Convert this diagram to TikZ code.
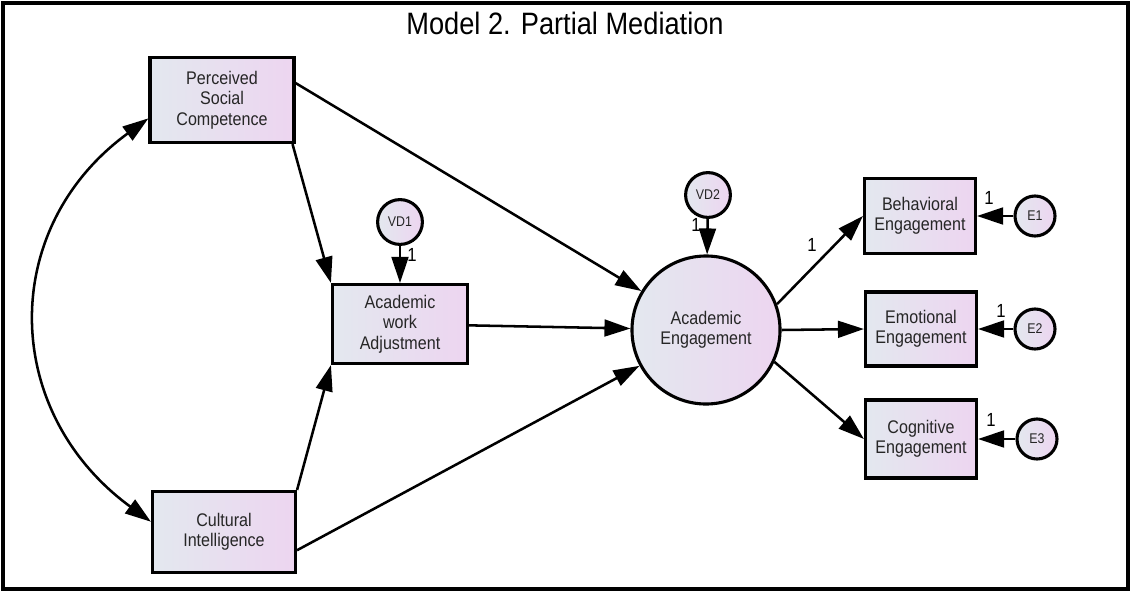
\documentclass[tikz,border=0pt]{standalone}
\usepackage{fontspec}
\setmainfont{Liberation Sans}[FakeStretch=0.88]
\usetikzlibrary{arrows.meta}
\definecolor{boxl}{HTML}{E3E8EF}
\definecolor{boxr}{HTML}{EDD5F0}

\begin{document}
\begin{tikzpicture}[x=0.025cm, y=-0.025cm, line width=1.8pt,
  >={Triangle[length=0.65cm, width=0.42cm]},
  var/.style={draw, line width=2.2pt, left color=boxl, right color=boxr, align=center,
              font=\fontsize{13}{14.5}\selectfont, inner sep=2pt, text=black!85},
  obsv/.style={var, minimum width=2.775cm, minimum height=1.9cm},
  lat/.style={var, circle, minimum size=3.7cm},
  err/.style={var, circle, minimum size=1.0cm, inner sep=0pt, font=\fontsize{10}{11}\selectfont},
  one/.style={inner sep=0pt, font=\fontsize{13.5}{13.5}\selectfont},
]
  \useasboundingbox (0,0) rectangle (1131,592);
  \draw[line width=3pt] (3,3) rectangle (1128,589);
  \node[inner sep=0pt, font=\fontsize{22}{22}\selectfont] (title) at (565,23) {Model 2. Partial Mediation};

  \node[obsv, minimum width=3.6cm, minimum height=2.125cm] (psc) at (222,100) {Perceived\\Social\\Competence};
  \node[obsv, minimum width=3.575cm, minimum height=2.025cm] (ci) at (224,532) {Cultural\\Intelligence};
  \node[obsv, minimum width=3.375cm, minimum height=1.975cm] (awa) at (400,324) {Academic\\work\\Adjustment};
  \node[err, minimum size=1.12cm] (vd1) at (400,222) {VD1};

  \node[lat] (ae) at (706,330) {Academic\\Engagement};
  \node[err, minimum size=1.12cm] (vd2) at (708,195) {VD2};

  \node[obsv, minimum height=1.875cm] (be) at (920,216) {Behavioral\\Engagement};
  \node[obsv, minimum height=1.85cm] (ee) at (921,329) {Emotional\\Engagement};
  \node[obsv, minimum height=1.95cm] (ce) at (921,439) {Cognitive\\Engagement};
  \node[err] (e1) at (1035,216) {E1};
  \node[err] (e2) at (1035,329) {E2};
  \node[err] (e3) at (1037,439) {E3};

  \draw[<->] (psc.194) .. controls (-2,228) and (1,412) .. (ci.172);
  \draw[->] (psc.13) -- (ae);
  \draw[->] (psc.-32) -- (awa.north west);
  \draw[->] (ci.north east) -- (awa.south west);
  \draw[->] (ci.-14) -- (ae);
  \draw[->] (awa) -- (ae);
  \draw[->] (vd1) -- (awa);
  \draw[->] (vd2) -- (ae);
  \draw[->] (ae.20) -- (be.west);
  \draw[->] (ae.east) -- (ee.west);
  \draw[->] (ae.-25) -- (ce.west);
  \draw[->] (e1) -- (be);
  \draw[->] (e2) -- (ee);
  \draw[->] (e3) -- (ce);

  \node[one] (l1) at (412,255) {1};
  \node[one] (l2) at (696,225) {1};
  \node[one] (l3) at (812,245) {1};
  \node[one] (l4) at (989,198) {1};
  \node[one] (l5) at (1001,311) {1};
  \node[one] (l6) at (991,420) {1};
\end{tikzpicture}
\end{document}
